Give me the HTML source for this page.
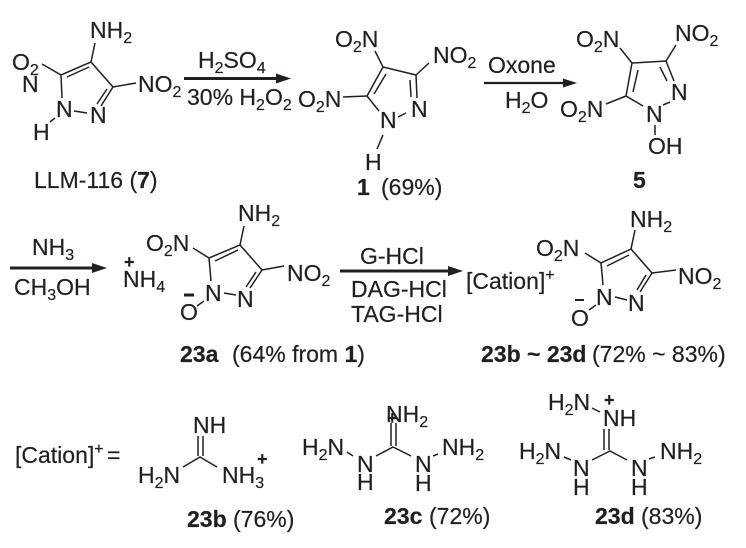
<!DOCTYPE html>
<html><head><meta charset="utf-8"><style>
html,body{margin:0;padding:0;background:#fff;width:746px;height:548px;overflow:hidden}
svg{display:block}
text{font-family:"Liberation Sans",sans-serif;font-size:23px;fill:#231f20;stroke:#231f20;stroke-width:.2}
.b{font-weight:bold}
.s{font-size:16px}
line,polyline{stroke:#231f20;stroke-width:1.5;fill:none}
.a{stroke-width:3}
.m{stroke-width:2.2}
polygon{fill:#231f20}
</style></head><body>
<svg width="746" height="548" viewBox="0 0 746 548" xmlns="http://www.w3.org/2000/svg">
<!-- Structure 7 -->
<text x="90" y="38">NH<tspan class="s" dy="5">2</tspan></text>
<text x="12" y="70">O<tspan class="s" dy="5">2</tspan></text>
<text x="22" y="92">N</text>
<text x="138" y="92">NO<tspan class="s" dy="5">2</tspan></text>
<text x="56" y="117">N</text>
<text x="90" y="123">N</text>
<text x="33" y="140">H</text>
<polyline points="95,43 91,62 61,75 62,98"/>
<line x1="42" y1="64" x2="61" y2="75"/>
<line x1="67" y1="77" x2="89" y2="67"/>
<polyline points="91,62 113,87 101,106"/>
<line x1="107" y1="89" x2="97" y2="104"/>
<line x1="113" y1="87" x2="136" y2="83"/>
<line x1="74" y1="111" x2="87" y2="113"/>
<line x1="55" y1="118" x2="50" y2="122"/>
<text x="34" y="188">LLM-116 (<tspan class="b">7</tspan>)</text>
<!-- Arrow 1 -->
<line class="a" x1="184" y1="78.500" x2="280" y2="78.500"/>
<polygon points="291,78.500 276,73.500 276,83.500"/>
<text x="198" y="68">H<tspan class="s" dy="5">2</tspan><tspan dy="-5">SO</tspan><tspan class="s" dy="5">4</tspan></text>
<text x="187" y="105">30% H<tspan class="s" dy="5">2</tspan><tspan dy="-5">O</tspan><tspan class="s" dy="5">2</tspan></text>
<!-- Structure 1 -->
<text x="335" y="47">O<tspan class="s" dy="5">2</tspan><tspan dy="-5">N</tspan></text>
<text x="433" y="63">NO<tspan class="s" dy="5">2</tspan></text>
<text x="298" y="107">O<tspan class="s" dy="5">2</tspan><tspan dy="-5">N</tspan></text>
<text x="380" y="128">N</text>
<text x="411" y="117">N</text>
<text x="365" y="170">H</text>
<polyline points="375,51 383,67 416,75 417,98"/>
<line x1="410" y1="80" x2="411" y2="97"/>
<line x1="416" y1="75" x2="429" y2="63"/>
<polyline points="383,67 367,96 379,111"/>
<line x1="386" y1="74" x2="374" y2="94"/>
<line x1="343" y1="97" x2="367" y2="96"/>
<line x1="398" y1="117" x2="406" y2="113"/>
<line x1="383" y1="135" x2="377" y2="149"/>
<text class="b" x="357" y="195">1</text>
<text x="381" y="195">(69%)</text>
<!-- Arrow 2 -->
<line class="m" x1="484" y1="83" x2="568" y2="83"/>
<polygon points="577,83 563,78.500 563,87.500"/>
<text x="488" y="73">Oxone</text>
<text x="505" y="108">H<tspan class="s" dy="5">2</tspan><tspan dy="-5">O</tspan></text>
<!-- Structure 5 -->
<text x="576" y="47">O<tspan class="s" dy="5">2</tspan><tspan dy="-5">N</tspan></text>
<text x="675" y="41">NO<tspan class="s" dy="5">2</tspan></text>
<text x="560" y="117">O<tspan class="s" dy="5">2</tspan><tspan dy="-5">N</tspan></text>
<text x="646" y="122">N</text>
<text x="671" y="100">N</text>
<text x="648" y="154">OH</text>
<polyline points="620,48 632,63 666,61 674,81"/>
<line x1="666" y1="61" x2="676" y2="45"/>
<line x1="660" y1="67" x2="667" y2="81"/>
<polyline points="632,63 626,96 643,106"/>
<line x1="638" y1="70" x2="633" y2="92"/>
<line x1="606" y1="104" x2="626" y2="96"/>
<line x1="663" y1="105" x2="670" y2="102"/>
<line x1="655" y1="125" x2="655" y2="135"/>
<text class="b" x="633" y="188">5</text>
<!-- Arrow 3 -->
<line class="a" x1="10" y1="268" x2="96" y2="268"/>
<polygon points="107,268 92,263 92,273"/>
<text x="32" y="255">NH<tspan class="s" dy="5">3</tspan></text>
<text x="14" y="295">CH<tspan class="s" dy="5">3</tspan><tspan dy="-5">OH</tspan></text>
<text class="b" x="124" y="268" style="font-size:18px">+</text>
<text x="123" y="287">NH<tspan class="s" dy="5">4</tspan></text>
<!-- Structure 23a -->
<text x="238" y="221">NH<tspan class="s" dy="5">2</tspan></text>
<text x="146" y="251">O<tspan class="s" dy="5">2</tspan><tspan dy="-5">N</tspan></text>
<text x="287" y="281">NO<tspan class="s" dy="5">2</tspan></text>
<text x="205" y="301">N</text>
<text x="237" y="307">N</text>
<text x="180" y="320">O</text>
<line x1="184" y1="295" x2="194" y2="295" style="stroke-width:3"/>
<polyline points="244,226 240,245 209,258 211,281"/>
<line x1="193" y1="248" x2="209" y2="258"/>
<line x1="215" y1="261" x2="238" y2="250"/>
<polyline points="240,245 262,270 250,288"/>
<line x1="256" y1="272" x2="246" y2="287"/>
<line x1="262" y1="270" x2="284" y2="266"/>
<line x1="224" y1="293" x2="236" y2="295"/>
<line x1="197" y1="306" x2="204" y2="301"/>
<text class="b" x="180" y="362">23a</text>
<text x="232" y="362">(64% from <tspan class="b">1</tspan>)</text>
<!-- Arrow 4 -->
<line class="a" x1="340" y1="271" x2="452" y2="271"/>
<polygon points="463,271 448,266 448,276"/>
<text x="360" y="264">G-HCl</text>
<text x="351" y="297">DAG-HCl</text>
<text x="351" y="322">TAG-HCl</text>
<text x="466" y="289">[Cation]<tspan class="s" dy="-9">+</tspan></text>
<!-- Structure 23b-d -->
<text x="630" y="227">NH<tspan class="s" dy="5">2</tspan></text>
<text x="536" y="256">O<tspan class="s" dy="5">2</tspan><tspan dy="-5">N</tspan></text>
<text x="678" y="284">NO<tspan class="s" dy="5">2</tspan></text>
<text x="596" y="305">N</text>
<text x="628" y="311">N</text>
<text x="571" y="326">O</text>
<line x1="575" y1="300" x2="584" y2="300" style="stroke-width:2"/>
<polyline points="635,230 631,249 601,263 603,285"/>
<line x1="585" y1="253" x2="601" y2="263"/>
<line x1="607" y1="266" x2="629" y2="255"/>
<polyline points="631,249 652,273 640,292"/>
<line x1="646" y1="275" x2="637" y2="290"/>
<line x1="652" y1="273" x2="676" y2="270"/>
<line x1="615" y1="297" x2="627" y2="300"/>
<line x1="589" y1="310" x2="596" y2="305"/>
<text class="b" x="481" y="362">23b ~ 23d</text>
<text x="592" y="362">(72% ~ 83%)</text>
<!-- Row 3 -->
<text x="15" y="463">[Cation]<tspan class="s" dy="-9">+</tspan></text>
<text x="107" y="463">=</text>
<text x="193" y="433">NH</text>
<text x="138" y="483">H<tspan class="s" dy="5">2</tspan><tspan dy="-5">N</tspan></text>
<text x="222" y="483">NH<tspan class="s" dy="5">3</tspan></text>
<text class="b" x="257" y="465" style="font-size:18px">+</text>
<line x1="198" y1="436" x2="198" y2="456"/>
<line x1="203" y1="436" x2="203" y2="456"/>
<polyline points="183,467 200,457 217,467"/>
<text class="b" x="187" y="527">23b</text>
<text x="233" y="527">(76%)</text>
<!-- 23c -->
<text x="302" y="455">H<tspan class="s" dy="5">2</tspan><tspan dy="-5">N</tspan></text>
<text x="357" y="472">N</text>
<text x="357" y="490">H</text>
<text x="386" y="422">NH<tspan class="s" dy="5">2</tspan></text>
<text class="b" x="387" y="424" style="font-size:18px">+</text>
<text x="415" y="472">N</text>
<text x="415" y="491">H</text>
<text x="442" y="455">NH<tspan class="s" dy="5">2</tspan></text>
<line x1="391" y1="423" x2="391" y2="446"/>
<line x1="396" y1="423" x2="396" y2="446"/>
<polyline points="376,456 393,447 411,456"/>
<line x1="347" y1="452" x2="353" y2="456"/>
<line x1="433" y1="456" x2="438" y2="454"/>
<text class="b" x="384" y="524">23c</text>
<text x="429" y="524">(72%)</text>
<!-- 23d -->
<text x="548" y="410">H<tspan class="s" dy="5">2</tspan><tspan dy="-5">N</tspan></text>
<text class="b" x="604" y="406" style="font-size:18px">+</text>
<text x="603" y="426">NH</text>
<text x="519" y="459">H<tspan class="s" dy="5">2</tspan><tspan dy="-5">N</tspan></text>
<text x="573" y="476">N</text>
<text x="573" y="495">H</text>
<text x="631" y="476">N</text>
<text x="631" y="495">H</text>
<text x="660" y="459">NH<tspan class="s" dy="5">2</tspan></text>
<line x1="604" y1="429" x2="604" y2="450"/>
<line x1="609" y1="429" x2="609" y2="450"/>
<line x1="592" y1="408" x2="600" y2="412"/>
<line x1="564" y1="457" x2="571" y2="460"/>
<polyline points="592,460 610,451 627,460"/>
<line x1="649" y1="459" x2="655" y2="457"/>
<text class="b" x="595" y="524">23d</text>
<text x="641" y="524">(83%)</text>
</svg>
</body></html>
